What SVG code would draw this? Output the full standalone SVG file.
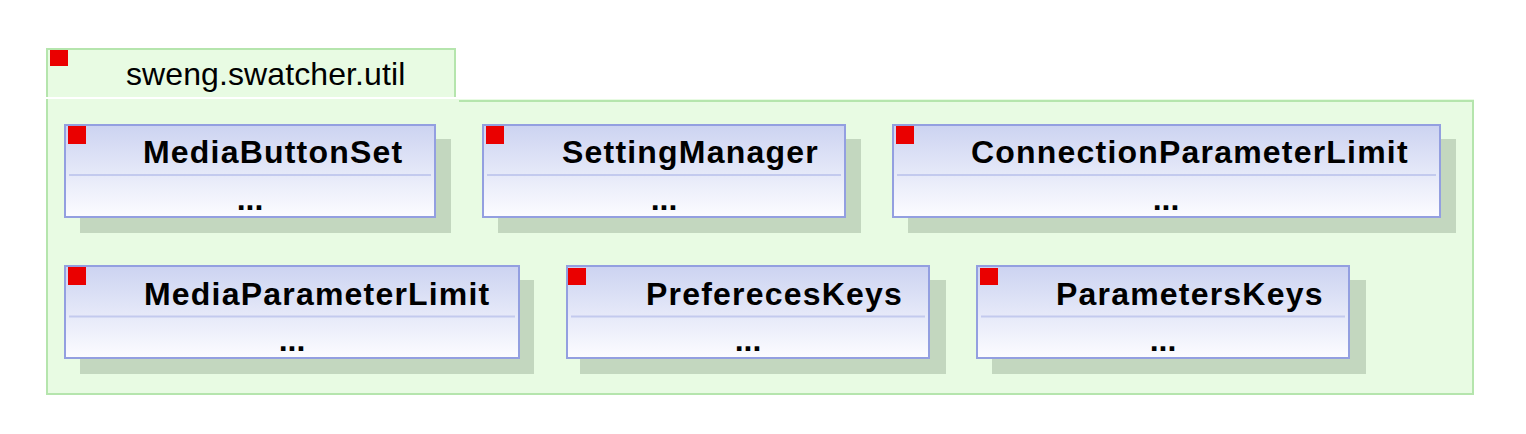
<svg xmlns="http://www.w3.org/2000/svg" width="1526" height="434" viewBox="0 0 1526 434">
<defs>
<linearGradient id="cls" x1="0" y1="0" x2="0" y2="1">
<stop offset="0" stop-color="#ccd3f1"/>
<stop offset="1" stop-color="#fcfcff"/>
</linearGradient>
<style>
.pkg{fill:#e8fbe3}
.pkgb{fill:none;stroke:#b5e5ad;stroke-width:2}
.shadow{fill:#c3d7bf}
.box{fill:url(#cls);stroke:#939fe0;stroke-width:2}
.sep{stroke:#c3caee;stroke-width:2}
.red{fill:#ea0000}
.title{font-family:"Liberation Sans",Arial,sans-serif;font-weight:bold;font-size:32px;letter-spacing:1.2px;fill:#000}
.dots{font-family:"Liberation Sans",Arial,sans-serif;font-weight:bold;font-size:32px;fill:#000;text-anchor:middle}
.pkgt{font-family:"Liberation Sans",Arial,sans-serif;font-size:32px;letter-spacing:0.1px;fill:#000}
</style>
</defs>
<rect width="1526" height="434" fill="#ffffff"/>
<g id="package-sweng.swatcher.util">
<rect class="pkg" x="47" y="49" width="409" height="48"/>
<path class="pkgb" d="M47 97 V49 H455 V97"/>
<rect class="pkg" x="47" y="99" width="1427" height="296"/>
<path class="pkgb" d="M459 101 H1473 V394 H47 V99"/>
<rect class="red" x="50" y="50" width="18" height="16"/>
<text class="pkgt" x="126" y="85">sweng.swatcher.util</text>
</g>
<g id="MediaButtonSet">
<rect class="shadow" x="80" y="139" width="371" height="94"/>
<rect class="box" x="65" y="125" width="370" height="92"/>
<line class="sep" x1="69" y1="175" x2="431" y2="175"/>
<rect class="red" x="68" y="126" width="18" height="18"/>
<text class="title" x="143" y="163">MediaButtonSet</text>
<text class="dots" x="250" y="210">...</text>
</g>
<g id="SettingManager">
<rect class="shadow" x="498" y="139" width="363" height="94"/>
<rect class="box" x="483" y="125" width="362" height="92"/>
<line class="sep" x1="487" y1="175" x2="841" y2="175"/>
<rect class="red" x="486" y="126" width="18" height="18"/>
<text class="title" x="562" y="163">SettingManager</text>
<text class="dots" x="664" y="210">...</text>
</g>
<g id="ConnectionParameterLimit">
<rect class="shadow" x="908" y="139" width="548" height="94"/>
<rect class="box" x="893" y="125" width="547" height="92"/>
<line class="sep" x1="897" y1="175" x2="1436" y2="175"/>
<rect class="red" x="896" y="126" width="18" height="18"/>
<text class="title" x="971" y="163">ConnectionParameterLimit</text>
<text class="dots" x="1166" y="210">...</text>
</g>
<g id="MediaParameterLimit">
<rect class="shadow" x="80" y="280" width="454" height="94"/>
<rect class="box" x="65" y="266" width="454" height="92"/>
<line class="sep" x1="69" y1="316.5" x2="515" y2="316.5"/>
<rect class="red" x="68" y="267" width="18" height="18"/>
<text class="title" x="144" y="305">MediaParameterLimit</text>
<text class="dots" x="292" y="351">...</text>
</g>
<g id="PreferecesKeys">
<rect class="shadow" x="580" y="280" width="366" height="94"/>
<rect class="box" x="567" y="266" width="362" height="92"/>
<line class="sep" x1="571" y1="316.5" x2="925" y2="316.5"/>
<rect class="red" x="568" y="268" width="18" height="17"/>
<text class="title" x="646" y="305">PreferecesKeys</text>
<text class="dots" x="748" y="351">...</text>
</g>
<g id="ParametersKeys">
<rect class="shadow" x="992" y="280" width="374" height="94"/>
<rect class="box" x="977" y="266" width="372" height="92"/>
<line class="sep" x1="981" y1="316.5" x2="1345" y2="316.5"/>
<rect class="red" x="980" y="268" width="18" height="17"/>
<text class="title" x="1056" y="305">ParametersKeys</text>
<text class="dots" x="1163" y="351">...</text>
</g>
<g id="connectors"></g>
</svg>
